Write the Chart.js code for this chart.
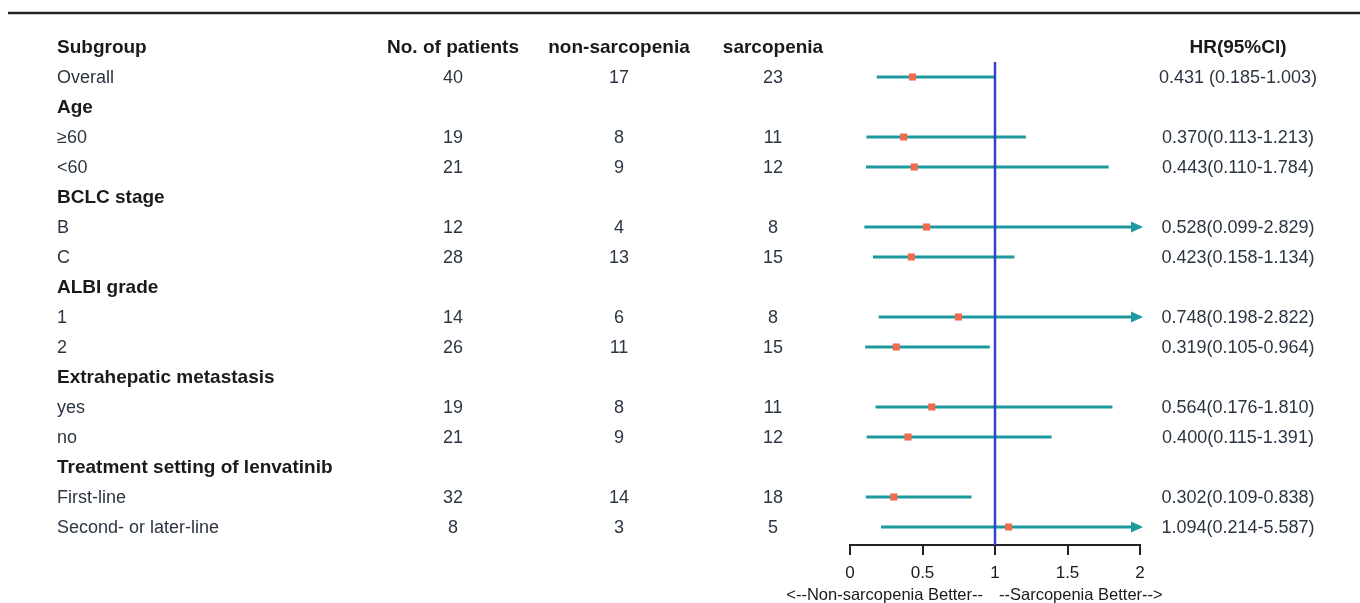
<!DOCTYPE html>
<html>
<head>
<meta charset="utf-8">
<script src="https://cdn.jsdelivr.net/npm/chart.js@4.4.1/dist/chart.umd.min.js"></script>
<style>
  html, body { margin: 0; padding: 0; background: #ffffff; }
  canvas { display: block; }
</style>
</head>
<body>
<canvas id="c" width="1360" height="603"></canvas>
<script>
// ---- Data ----
const subgroups = ['Overall','Age','≥60','<60','BCLC stage','B','C','ALBI grade','1','2',
  'Extrahepatic metastasis','yes','no','Treatment setting of lenvatinib','First-line','Second- or later-line'];
const isGroupHeader = [false,true,false,false,true,false,false,true,false,false,true,false,false,true,false,false];
const patients   = [40,null,19,21,null,12,28,null,14,26,null,19,21,null,32,8];
const nonSarcopenia = [17,null,8,9,null,4,13,null,6,11,null,8,9,null,14,3];
const sarcopenia = [23,null,11,12,null,8,15,null,8,15,null,11,12,null,18,5];
const hr      = [0.431,null,0.370,0.443,null,0.528,0.423,null,0.748,0.319,null,0.564,0.400,null,0.302,1.094];
const ciLow   = [0.185,null,0.113,0.110,null,0.099,0.158,null,0.198,0.105,null,0.176,0.115,null,0.109,0.214];
const ciHigh  = [1.003,null,1.213,1.784,null,2.829,1.134,null,2.822,0.964,null,1.810,1.391,null,0.838,5.587];
const hrText  = ['0.431 (0.185-1.003)','','0.370(0.113-1.213)','0.443(0.110-1.784)','','0.528(0.099-2.829)',
  '0.423(0.158-1.134)','','0.748(0.198-2.822)','0.319(0.105-0.964)','','0.564(0.176-1.810)',
  '0.400(0.115-1.391)','','0.302(0.109-0.838)','1.094(0.214-5.587)'];
const columnHeaders = ['Subgroup','No. of patients','non-sarcopenia','sarcopenia','HR(95%CI)'];
const xTicks = [0, 0.5, 1, 1.5, 2];
const xTickLabels = ['0', '0.5', '1', '1.5', '2'];
const xMin = 0, xMax = 2;
const axisTitleLeft = '<--Non-sarcopenia Better--';
const axisTitleRight = '--Sarcopenia Better-->';

// ---- Styles ----
const FONT = '"Liberation Sans", Arial, Helvetica, sans-serif';
const TEAL = '#1c9a9e';
const ORANGE = '#f26a4b';
const BLUE = '#3242c2';
const TEXT = '#2b3642';
const DARK = '#1a1a1a';

// ---- Datasets ----
const datasets = [];
datasets.push({
  type: 'scatter',
  data: hr.map((v, i) => v == null ? null : {x: v, y: i + 1}).filter(p => p),
  pointStyle: 'rect',
  pointRadius: 5,
  pointHoverRadius: 5,
  backgroundColor: ORANGE,
  borderColor: ORANGE,
  borderWidth: 0,
  order: 0
});
datasets.push({
  type: 'line',
  data: [{x: 1, y: 0.5}, {x: 1, y: 16.6}],
  borderColor: BLUE,
  borderWidth: 2.5,
  pointRadius: 0,
  order: 1
});
ciLow.forEach((lo, i) => {
  if (lo == null) return;
  datasets.push({
    type: 'line',
    data: [{x: lo, y: i + 1}, {x: Math.min(ciHigh[i], xMax), y: i + 1}],
    borderColor: TEAL,
    borderWidth: 2.8,
    pointRadius: 0,
    order: 2
  });
});

const forestPlugin = {
  id: 'forestText',
  afterDatasetsDraw(chart) {
    const ctx = chart.ctx;
    const xs = chart.scales.x, ys = chart.scales.y;
    ctx.save();
    ctx.fillStyle = TEAL;
    ciHigh.forEach((hi, i) => {
      if (hi == null || hi <= xMax) return;
      const px = xs.getPixelForValue(xMax) + 3;
      const py = ys.getPixelForValue(i + 1);
      ctx.beginPath();
      ctx.moveTo(px, py);
      ctx.lineTo(px - 12, py - 5.5);
      ctx.lineTo(px - 12, py + 5.5);
      ctx.closePath();
      ctx.fill();
    });
    ctx.restore();
  },
  afterDraw(chart) {
    const ctx = chart.ctx;
    const ys = chart.scales.y;
    ctx.save();
    ctx.strokeStyle = '#222';
    ctx.lineWidth = 2.7;
    ctx.beginPath();
    ctx.moveTo(8, 13);
    ctx.lineTo(1360, 13);
    ctx.stroke();

    ctx.textBaseline = 'middle';
    const colX = [57, 453, 619, 773, 1238];
    const dy = 1;
    const hy = ys.getPixelForValue(0) + dy;
    ctx.fillStyle = DARK;
    ctx.font = 'bold 19px ' + FONT;
    columnHeaders.forEach((h, k) => {
      ctx.textAlign = k === 0 ? 'left' : 'center';
      ctx.fillText(h, colX[k], hy);
    });
    subgroups.forEach((s, i) => {
      const y = ys.getPixelForValue(i + 1) + dy;
      ctx.textAlign = 'left';
      if (isGroupHeader[i]) {
        ctx.fillStyle = DARK;
        ctx.font = 'bold 19px ' + FONT;
      } else {
        ctx.fillStyle = TEXT;
        ctx.font = '18px ' + FONT;
      }
      ctx.fillText(s, colX[0], y);
      ctx.fillStyle = TEXT;
      ctx.font = '18px ' + FONT;
      ctx.textAlign = 'center';
      if (patients[i] != null) ctx.fillText(String(patients[i]), colX[1], y);
      if (nonSarcopenia[i] != null) ctx.fillText(String(nonSarcopenia[i]), colX[2], y);
      if (sarcopenia[i] != null) ctx.fillText(String(sarcopenia[i]), colX[3], y);
      if (hrText[i]) ctx.fillText(hrText[i], colX[4], y);
    });
    ctx.fillStyle = DARK;
    ctx.font = '16.5px ' + FONT;
    ctx.textAlign = 'right';
    ctx.fillText(axisTitleLeft, 983, 595);
    ctx.textAlign = 'left';
    ctx.fillText(axisTitleRight, 999, 595);
    ctx.restore();
  }
};

new Chart(document.getElementById('c'), {
  data: { datasets },
  options: {
    responsive: false,
    animation: false,
    events: [],
    layout: { padding: { left: 850, right: 220, top: 62, bottom: 0 } },
    plugins: { legend: { display: false }, tooltip: { enabled: false } },
    scales: {
      x: {
        type: 'linear',
        min: xMin,
        max: xMax,
        afterBuildTicks(scale) { scale.ticks = xTicks.map(v => ({value: v})); },
        afterFit(scale) { scale.height = 58; },
        ticks: {
          color: DARK,
          font: { family: FONT, size: 17 },
          padding: 8,
          maxRotation: 0,
          autoSkip: false,
          callback: (v) => xTickLabels[xTicks.indexOf(v)] ?? String(v)
        },
        grid: {
          display: true,
          drawOnChartArea: false,
          drawTicks: true,
          tickLength: 10,
          color: '#222',
          lineWidth: 2
        },
        border: { display: true, color: '#222', width: 2 }
      },
      y: {
        type: 'linear',
        reverse: true,
        min: 0.5,
        max: 16.6,
        display: false
      }
    }
  },
  plugins: [forestPlugin]
});
</script>
</body>
</html>
